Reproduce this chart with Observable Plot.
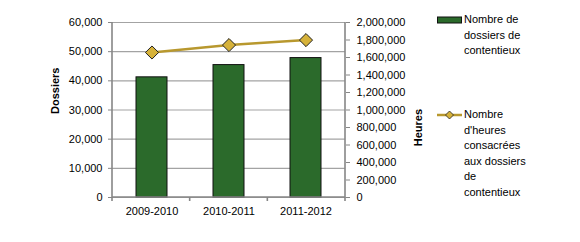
<!DOCTYPE html>
<html>
<head>
<meta charset="utf-8">
<script src="https://cdn.jsdelivr.net/npm/d3@7"></script>
<script src="https://cdn.jsdelivr.net/npm/@observablehq/plot@0.6"></script>
<style>
  body { margin: 0; background: #fff; }
  #wrap { position: relative; width: 580px; height: 242px; font-family: "Liberation Sans", Arial, sans-serif; font-size: 11px; color: #000; }
  .leg { position: absolute; left: 437px; }
  .leg svg { position: absolute; left: 0; }
  .leg .txt { position: absolute; left: 27px; line-height: 15.5px; white-space: nowrap; }
</style>
</head>
<body>
<div id="wrap"></div>
<script>
const categories = ["2009-2010", "2010-2011", "2011-2012"];
const dossiers = [41200, 45400, 47800];
const heures = [1657000, 1742000, 1799000];
const leftTicks = [0, 10000, 20000, 30000, 40000, 50000, 60000];
const rightTicks = [0, 200000, 400000, 600000, 800000, 1000000, 1200000, 1400000, 1600000, 1800000, 2000000];
const leftMax = 60000;
const rightMax = 2000000;
const seriesNames = ["Nombre de<br>dossiers de<br>contentieux", "Nombre<br>d'heures<br>consacrées<br>aux dossiers<br>de<br>contentieux"];
const axisTitles = ["Dossiers", "Heures"];

const k = leftMax / rightMax;
const data = categories.map((c, i) => ({cat: c, dossiers: dossiers[i], heures: heures[i], hs: heures[i] * k}));
const fmt = d3.format(",");

const GREEN = "#2B6A2B", GOLD = "#B8982E", DIAMOND = "#D6B23A", AXIS = "#868686", GRID = "#a3a3a3";

function frameLines(index, scales, values, dim) {
  const ns = "http://www.w3.org/2000/svg";
  const g = document.createElementNS(ns, "g");
  const L = dim.marginLeft, R = dim.width - dim.marginRight, T = dim.marginTop, B = dim.height - dim.marginBottom;
  const line = (x1, y1, x2, y2) => {
    const l = document.createElementNS(ns, "line");
    l.setAttribute("x1", x1); l.setAttribute("y1", y1); l.setAttribute("x2", x2); l.setAttribute("y2", y2);
    l.setAttribute("stroke", AXIS); l.setAttribute("stroke-width", 1.6);
    g.appendChild(l);
  };
  line(L, T, L, B + 0.8);
  line(R, T, R, B + 0.8);
  line(L, B, R, B);
  const n = categories.length;
  for (let i = 0; i <= n; i++) {
    const x = L + i * (R - L) / n;
    line(x, B, x, B + 4);
  }
  return g;
}

const chart = Plot.plot({
  width: 580,
  height: 242,
  marginLeft: 112,
  marginRight: 235,
  marginTop: 22,
  marginBottom: 45,
  style: {fontFamily: '"Liberation Sans", Arial, sans-serif', fontSize: "11px", color: "#000", background: "#fff"},
  x: {domain: categories, paddingInner: 0.6, paddingOuter: 0.3, axis: null, label: null},
  y: {domain: [0, leftMax], axis: null, label: null},
  marks: [
    Plot.gridY(leftTicks, {stroke: GRID, strokeOpacity: 1, strokeWidth: 1.2}),
    Plot.barY(data, {x: "cat", y: "dossiers", fill: GREEN, stroke: "#111", strokeWidth: 1}),
    Plot.line(data, {x: "cat", y: "hs", stroke: GOLD, strokeWidth: 2.5}),
    Plot.dot(data, {x: "cat", y: "hs", symbol: "diamond2", r: 5.9, fill: DIAMOND, stroke: "#222", strokeWidth: 1}),
    frameLines,
    Plot.axisY(leftTicks, {anchor: "left", tickFormat: fmt, tickSize: 4, tickPadding: 6, stroke: AXIS, fill: "#000", label: null}),
    Plot.axisY(rightTicks.map(t => t * k), {anchor: "right", tickFormat: d => fmt(Math.round(d / k)), tickSize: 4, tickPadding: 7, stroke: AXIS, fill: "#000", label: null}),
    Plot.axisX({tickSize: 0, tickPadding: 10, fill: "#000", label: null}),
    Plot.text([axisTitles[0]], {frameAnchor: "left", rotate: -90, dx: -57, dy: 4, fontWeight: "bold", fontSize: 11}),
    Plot.text([axisTitles[1]], {frameAnchor: "right", rotate: -90, dx: 73, dy: -1, fontWeight: "bold", fontSize: 11})
  ]
});

const wrap = document.getElementById("wrap");
wrap.appendChild(chart);

const leg1 = document.createElement("div");
leg1.className = "leg";
leg1.style.top = "12px";
leg1.innerHTML = `<svg width="26" height="16" style="top:0"><rect x="0.5" y="5" width="24" height="6" fill="${GREEN}" stroke="#111" stroke-width="1"/></svg><div class="txt" style="top:0">${seriesNames[0]}</div>`;
wrap.appendChild(leg1);

const leg2 = document.createElement("div");
leg2.className = "leg";
leg2.style.top = "107px";
leg2.innerHTML = `<svg width="26" height="16" style="top:0"><line x1="0" y1="8" x2="25" y2="8" stroke="${GOLD}" stroke-width="2.5"/><path d="M12.5,4 L16.5,8 L12.5,12 L8.5,8 Z" fill="${DIAMOND}" stroke="#222" stroke-width="0.8"/></svg><div class="txt" style="top:0">${seriesNames[1]}</div>`;
wrap.appendChild(leg2);
</script>
</body>
</html>
